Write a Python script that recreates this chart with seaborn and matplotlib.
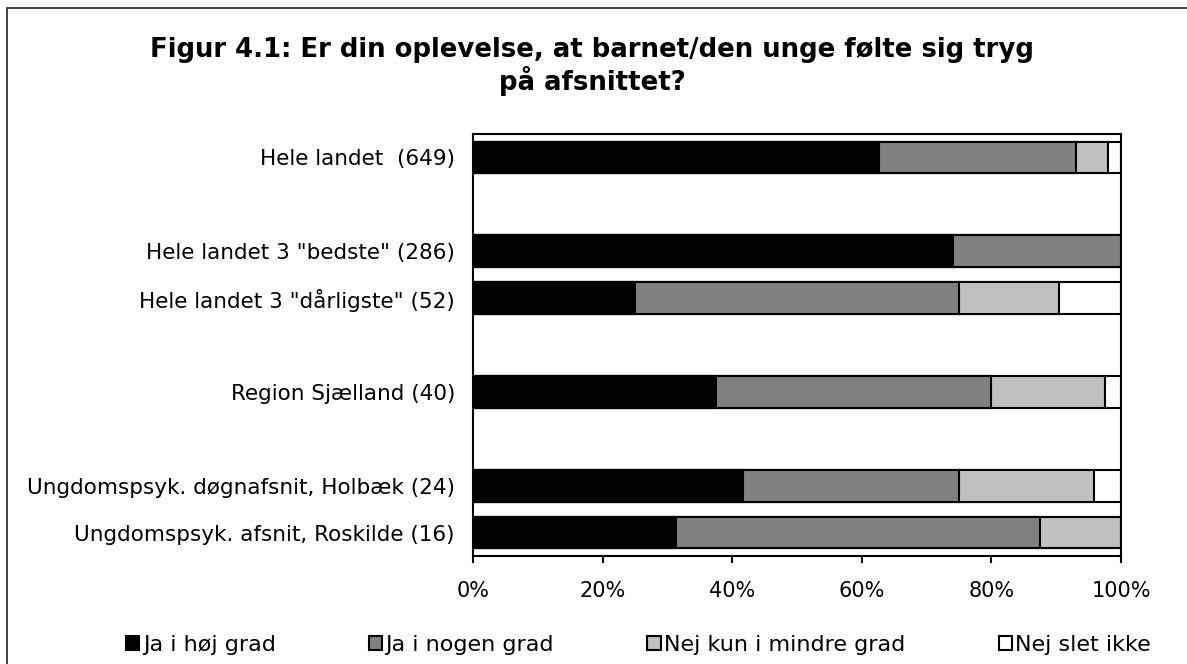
import numpy as np
import pandas as pd
import matplotlib
matplotlib.use("Agg")
import matplotlib.pyplot as plt
import matplotlib.patches as mpatches
from matplotlib.ticker import PercentFormatter
import seaborn as sns

# rows of the chart, blanks are spacer rows
order = ['Hele landet  (649)', ' ',
         'Hele landet 3 "bedste" (286)', 'Hele landet 3 "dårligste" (52)', '  ',
         'Region Sjælland (40)', '   ',
         'Ungdomspsyk. døgnafsnit, Holbæk (24)', 'Ungdomspsyk. afsnit, Roskilde (16)']
groups = [o for o in order if o.strip()]

# percentages per answer
ja_hoj = [62.6, 74.1, 25.0, 37.5, 41.7, 31.25]
ja_nogen = [30.5, 25.9, 50.0, 42.5, 33.3, 56.25]
nej_mindre = [4.9, 0.0, 15.4, 17.5, 20.8, 12.5]
nej_slet = [2.0, 0.0, 9.6, 2.5, 4.2, 0.0]

answers = ['Ja i høj grad', 'Ja i nogen grad', 'Nej kun i mindre grad', 'Nej slet ikke']
colors = ['#000000', '#808080', '#c0c0c0', '#ffffff']

df = pd.DataFrame({'gruppe': groups, answers[0]: ja_hoj, answers[1]: ja_nogen,
                   answers[2]: nej_mindre, answers[3]: nej_slet})
cum = df[answers].cumsum(axis=1)
cum['gruppe'] = df['gruppe']

sns.set_style("white")
plt.rcParams['font.family'] = ['DejaVu Sans']
plt.rcParams['text.color'] = 'black'
plt.rcParams['xtick.color'] = 'black'
plt.rcParams['ytick.color'] = 'black'
plt.rcParams['axes.labelcolor'] = 'black'

fig = plt.figure(figsize=(11.87, 6.64), dpi=100)
ax = fig.add_axes([473 / 1187, 1 - 556 / 664, 648 / 1187, 422 / 664])

# draw cumulative bars from the back to the front
for ans, col in zip(answers[::-1], colors[::-1]):
    sns.barplot(data=cum, x=ans, y='gruppe', order=order, color=col, saturation=1,
                edgecolor='black', linewidth=1.5, width=0.68, errorbar=None,
                orient='h', ax=ax)

ax.set_xlim(0, 100)
ax.set_ylim(8.5, -0.5)
ax.set_xticks(np.arange(0, 101, 20))
ax.xaxis.set_major_formatter(PercentFormatter(decimals=0))
ax.set_xlabel('')
ax.set_ylabel('')
ax.tick_params(axis='x', direction='out', length=5, width=1.5, pad=13, labelsize=15,
               bottom=True, color='black')
ax.tick_params(axis='y', length=0, pad=13, labelsize=15.5)
for sp in ax.spines.values():
    sp.set_visible(True)
    sp.set_color('black')
    sp.set_linewidth(1.5)

fig.text(0.499, 0.900, 'Figur 4.1: Er din oplevelse, at barnet/den unge følte sig tryg\npå afsnittet?',
         ha='center', va='center', fontsize=18.7, fontweight='bold', linespacing=1.15)

handles = [mpatches.Patch(facecolor=c, edgecolor='black', linewidth=1.5) for c in colors]
fig.legend(handles, answers, loc='center', bbox_to_anchor=(0.538, 0.029), ncol=4,
           frameon=False, fontsize=16, handlelength=0.6, handleheight=0.6,
           handletextpad=0.15, columnspacing=4.2, borderaxespad=0)

# outer frame of the figure (only left and top edges are visible)
fig.patches.append(mpatches.Rectangle((7 / 1187, -0.2), 1.5, 1.2 - 8 / 664, fill=False,
                                      edgecolor='#222222', linewidth=1.2,
                                      transform=fig.transFigure, figure=fig))

fig.savefig('out.png', dpi=100)
